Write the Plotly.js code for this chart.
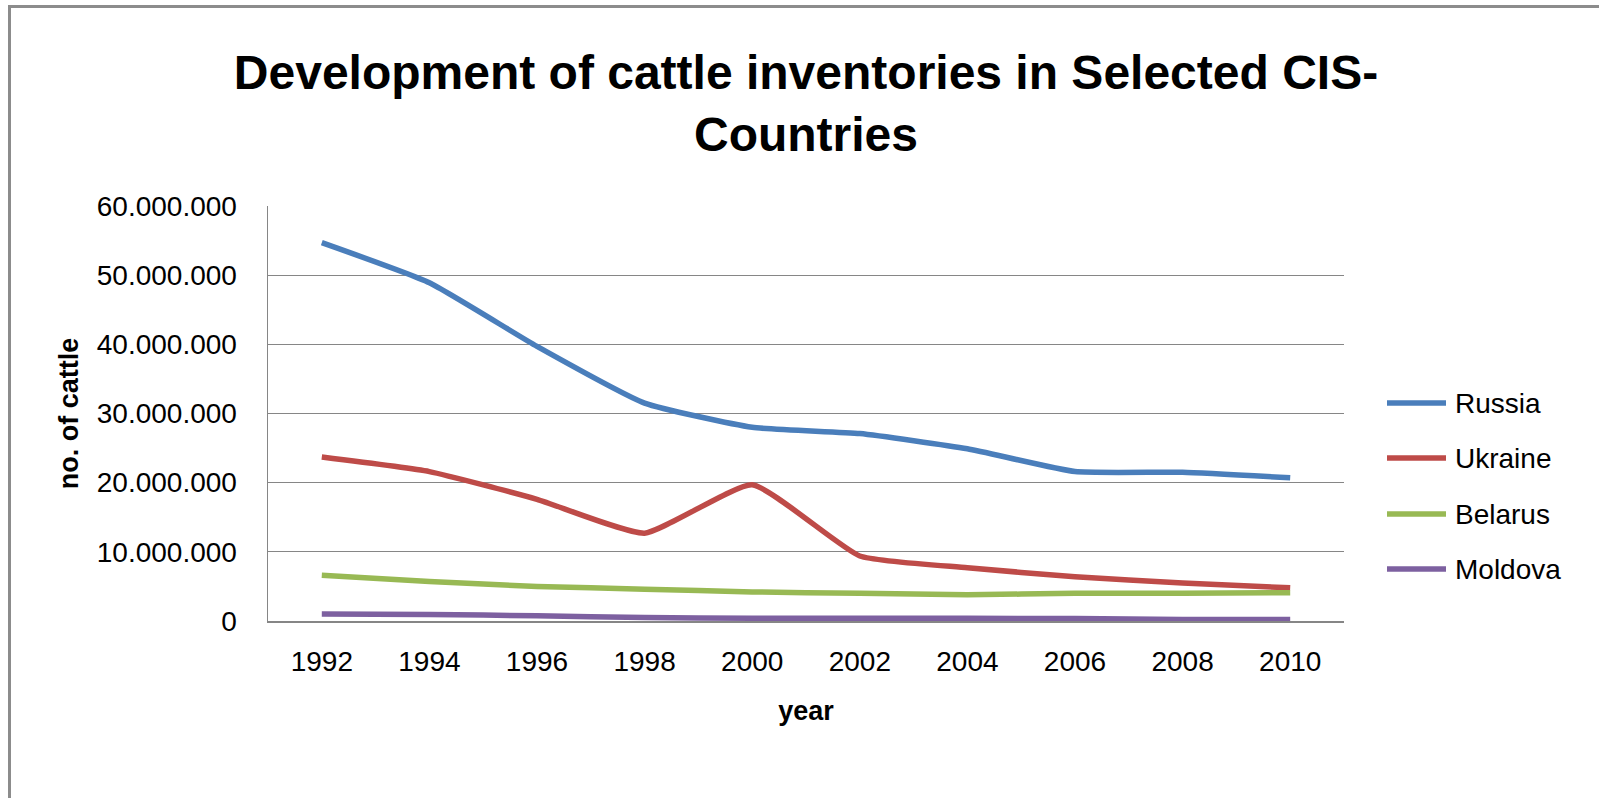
<!DOCTYPE html>
<html>
<head>
<meta charset="utf-8">
<script src="https://cdn.plot.ly/plotly-3.0.1.min.js"></script>
<style>
html,body{margin:0;padding:0;background:#fff;}
#chart{width:1599px;height:798px;}
</style>
</head>
<body>
<div id="chart"></div>
<script>
const years = ["1992","1994","1996","1998","2000","2002","2004","2006","2008","2010"];
const seriesNames = ["Russia","Ukraine","Belarus","Moldova"];
const russia  = [54700000,48900000,39700000,31500000,28000000,27100000,24900000,21600000,21500000,20700000];
const ukraine = [23700000,21600000,17600000,12700000,19700000,9400000,7700000,6400000,5500000,4800000];
const belarus = [6600000,5700000,5000000,4600000,4200000,4000000,3800000,4000000,4000000,4100000];
const moldova = [1000000,950000,750000,500000,400000,380000,380000,350000,200000,200000];
const colors = ["#4a7ebb","#be4b48","#98b954","#7d60a0"];
const yTicks = [0,10000000,20000000,30000000,40000000,50000000,60000000];

const values = [russia, ukraine, belarus, moldova];
const font = "'Liberation Sans', Arial, sans-serif";
const traces = values.map((v,i)=>({
  type:"scatter", mode:"lines", x:years, y:v, name:seriesNames[i],
  showlegend:false,
  line:{color:colors[i], width:5.5, shape:"spline", smoothing:0.45}
}));

// plot area in pixels: x 268..1344, y 206..621
const px = x => (x-268)/1076;
const py = y => (621-y)/415;
const legendY = [403,458,514,569];
const shapes = [{type:"rect", xref:"paper", yref:"paper",
    x0:px(9.5), x1:px(1620), y0:py(820), y1:py(6.5),
    line:{color:"#8c8c8c", width:3}, fillcolor:"rgba(0,0,0,0)", layer:"below"}];
const annotations = [];
seriesNames.forEach((n,i)=>{
  shapes.push({type:"line", xref:"paper", yref:"paper", x0:px(1387), x1:px(1446),
    y0:py(legendY[i]), y1:py(legendY[i]), line:{color:colors[i], width:5.5}});
  annotations.push({xref:"paper", yref:"paper", x:px(1453), y:py(legendY[i]),
    xanchor:"left", yanchor:"middle", showarrow:false, text:n,
    font:{family:font, size:28, color:"#000"}});
});

const layout = {
  width:1599, height:798,
  separators:",.",
  paper_bgcolor:"#fff", plot_bgcolor:"#fff",
  margin:{l:268, r:255, t:206, b:177},
  font:{family:font, color:"#000"},
  title:{text:"<b>Development of cattle inventories in Selected CIS-<br>Countries</b>",
    font:{family:font, size:48, color:"#000"}, x:0.5, xref:"paper", xanchor:"center",
    y:1-89/798, yref:"container", yanchor:"top"},
  xaxis:{type:"category", range:[-0.5, years.length-0.5], showgrid:false, showline:true, linecolor:"#868686", linewidth:1.5,
    ticks:"", tickfont:{size:28}, ticklabelstandoff:15, zeroline:false,
    title:{text:"<b>year</b>", font:{size:27}, standoff:25}},
  yaxis:{range:[0,60000000], tickvals:yTicks, tickformat:",d", showgrid:true, gridcolor:"#868686", gridwidth:1.2,
    showline:true, linecolor:"#868686", linewidth:1.5, zeroline:false,
    ticks:"outside", ticklen:24, tickcolor:"rgba(0,0,0,0)",
    tickfont:{size:28},
    title:{text:"<b>no. of cattle</b>", font:{size:27}, standoff:10}},
  showlegend:false,
  shapes:shapes,
  annotations:annotations
};
Plotly.newPlot("chart", traces, layout, {displayModeBar:false, staticPlot:true});
</script>
</body>
</html>
